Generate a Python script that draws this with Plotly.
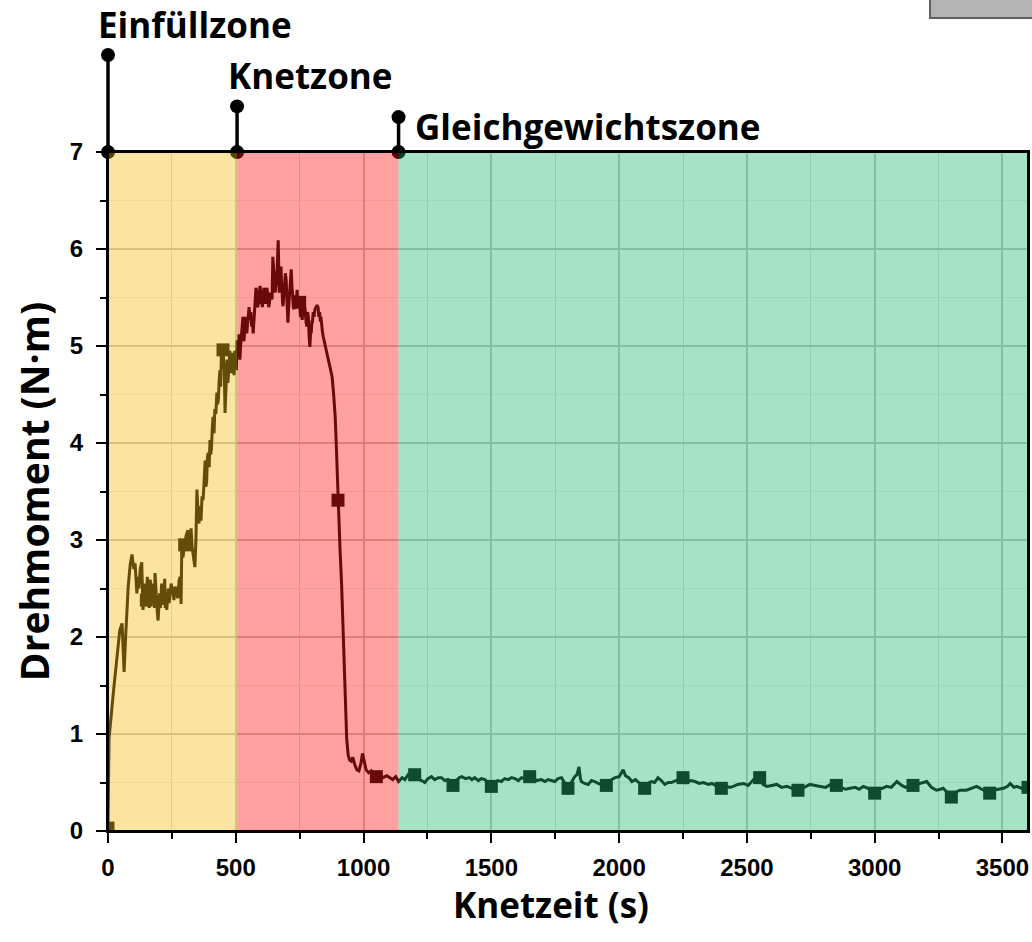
import plotly.graph_objects as go

# Kneading torque curve: time (s) and torque (N·m)
time_s = [
    0, 4, 20, 35, 46, 55, 59, 63, 69, 79, 87, 94, 101, 106, 113, 117, 121, 126, 132,
    137, 141, 144, 150, 154, 157, 161, 165, 170, 174, 178, 182, 184, 187, 190, 193,
    196, 199, 202, 205, 207, 210, 213, 216, 219, 222, 224, 227, 230, 233, 236, 239,
    242, 247, 253, 258, 263, 268, 273, 278, 282, 286, 289, 293, 300, 306, 313, 317,
    321, 325, 329, 334, 340, 344, 348, 352, 356, 360, 364, 368, 372, 376, 380, 383,
    386, 389, 392, 396, 399, 402, 405, 408, 411, 415, 418, 422, 426, 429, 432, 435,
    438, 441, 444, 450, 455, 458, 462, 466, 469, 473, 476, 479, 482, 485, 489, 493,
    496, 499, 502, 505,
    510, 513, 516, 519, 522, 525, 528, 532, 535, 539, 543, 546, 549, 552, 556, 559,
    562, 565, 568, 572, 575, 579, 583, 586, 589, 592, 595, 600, 604, 607, 610, 612,
    615, 618, 622, 626, 629, 632, 635, 638, 642, 645, 648, 651, 654, 658, 662, 666,
    668, 670, 672, 674, 677, 679, 681, 683, 685, 688, 691, 694, 697, 701, 704, 707,
    710, 714, 717, 720, 722, 725, 728, 731, 734, 737, 740, 743, 745, 750, 753, 755,
    760, 763, 766, 769, 771, 775, 778, 781, 784, 787, 790, 793, 795, 798, 800, 803,
    806, 810, 814, 818, 822, 825, 828, 831, 833, 836, 839, 842, 845, 849, 853, 857,
    862, 869, 877, 883, 889, 893, 896, 900, 904, 908, 914, 919, 924, 929, 934, 940,
    946, 952, 958, 966, 974, 982, 990, 996, 1002, 1010, 1020, 1030, 1040, 1050,
    1060, 1076, 1091, 1106, 1114, 1126, 1133, 1137,
    1151, 1162, 1174, 1187, 1200, 1212, 1227, 1240, 1252, 1266, 1278, 1293, 1305,
    1318, 1331, 1341, 1350, 1364, 1374, 1384, 1399, 1414, 1424, 1435, 1449, 1461,
    1475, 1487, 1500, 1513, 1525, 1539, 1552, 1566, 1579, 1593, 1606, 1618, 1631,
    1650, 1661, 1677, 1696, 1710, 1722, 1735, 1748, 1761, 1775, 1788, 1800, 1813,
    1826, 1835, 1843, 1848, 1852, 1865, 1879, 1892, 1905, 1919, 1934, 1950, 1964,
    1984, 2000, 2010, 2016, 2025, 2038, 2050, 2064, 2081, 2100, 2113, 2126, 2139,
    2152, 2165, 2179, 2192, 2205, 2222, 2237, 2250, 2262, 2280, 2297, 2313, 2330,
    2349, 2363, 2384, 2400, 2414, 2432, 2447, 2464, 2487, 2505, 2526, 2540, 2550,
    2563, 2579, 2596, 2617, 2636, 2656, 2677, 2700, 2717, 2732, 2747, 2767, 2787,
    2808, 2828, 2850, 2868, 2886, 2904, 2924, 2939, 2956, 2974, 2985, 3000, 3015,
    3030, 3047, 3065, 3087, 3106, 3121, 3136, 3150, 3166, 3182, 3204, 3222, 3242,
    3257, 3268, 3283, 3300, 3318, 3333, 3359, 3378, 3399, 3419, 3434, 3450, 3464,
    3485, 3504, 3520, 3530, 3545, 3556, 3575, 3586, 3600,
]
torque_nm = [
    0.03, 0.95, 1.40, 1.80, 2.07, 2.14, 1.90, 1.64, 2.00, 2.52, 2.75, 2.85, 2.70, 2.76,
    2.45, 2.62, 2.50, 2.70, 2.77, 2.28, 2.55, 2.45, 2.38, 2.62, 2.50, 2.30, 2.59, 2.42,
    2.35, 2.55, 2.30, 2.66, 2.48, 2.40, 2.25, 2.17, 2.40, 2.45, 2.30, 2.38, 2.55, 2.50,
    2.33, 2.45, 2.60, 2.30, 2.42, 2.28, 2.45, 2.50, 2.35, 2.42, 2.55, 2.48, 2.38, 2.52,
    2.45, 2.40, 2.58, 2.62, 2.34, 3.00, 2.82, 2.95, 3.05, 3.10, 2.90, 3.00, 3.12, 2.93,
    2.85, 2.72, 3.00, 3.52, 3.30, 3.17, 3.35, 3.20, 3.45, 3.41, 3.60, 3.82, 3.55, 3.60,
    3.85, 3.90, 3.75, 4.03, 3.88, 3.95, 4.15, 4.27, 4.10, 4.35, 4.30, 4.52, 4.40, 4.45,
    4.65, 4.75, 4.58, 4.95, 4.96, 4.75, 4.31, 4.70, 4.86, 4.62, 4.75, 4.95, 4.90, 4.72,
    4.80, 4.93, 4.70, 4.95, 4.85, 4.75, 5.06,
    4.90, 5.12, 4.86, 5.00, 5.10, 5.25, 5.30, 5.05, 5.15, 5.30, 5.13, 5.22, 5.30, 5.40,
    5.27, 5.35, 5.20, 5.28, 5.13, 5.35, 5.40, 5.60, 5.55, 5.40, 5.45, 5.58, 5.62, 5.50,
    5.40, 5.48, 5.60, 5.55, 5.45, 5.52, 5.60, 5.50, 5.40, 5.45, 5.55, 5.52, 5.48, 5.92,
    5.75, 5.70, 5.55, 5.65, 5.80, 6.09, 5.85, 5.55, 5.70, 5.75, 5.82, 5.65, 5.60, 5.45,
    5.41, 5.52, 5.60, 5.75, 5.69, 5.45, 5.24, 5.40, 5.50, 5.62, 5.79, 5.60, 5.55, 5.40,
    5.38, 5.52, 5.50, 5.45, 5.58, 5.40, 5.45, 5.45, 5.30, 5.35, 5.27, 5.42, 5.30, 5.38,
    5.38, 5.25, 5.20, 5.35, 5.30, 5.10, 4.99, 5.15, 5.13, 5.25, 5.25, 5.35, 5.30, 5.38,
    5.40, 5.42, 5.40, 5.30, 5.35, 5.25, 5.30, 5.20, 5.15, 5.10, 5.06, 5.02, 4.95, 4.90,
    4.86, 4.78, 4.68, 4.50, 4.27, 4.00, 3.75, 3.41, 3.15, 2.90, 2.55, 2.20, 1.80, 1.35,
    0.95, 0.78, 0.73, 0.72, 0.76, 0.68, 0.63, 0.62, 0.70, 0.80, 0.72, 0.63, 0.60, 0.62,
    0.58, 0.56, 0.58, 0.55, 0.57, 0.54, 0.53, 0.56, 0.52, 0.51,
    0.55, 0.53, 0.58, 0.55, 0.58, 0.54, 0.52, 0.50, 0.54, 0.56, 0.53, 0.55, 0.55, 0.52,
    0.53, 0.50, 0.47, 0.52, 0.55, 0.56, 0.54, 0.55, 0.53, 0.55, 0.52, 0.54, 0.53, 0.50,
    0.46, 0.50, 0.52, 0.51, 0.54, 0.53, 0.55, 0.54, 0.52, 0.55, 0.54, 0.56, 0.55, 0.52,
    0.53, 0.51, 0.53, 0.52, 0.51, 0.54, 0.55, 0.49, 0.44, 0.50, 0.56, 0.58, 0.66, 0.55,
    0.51, 0.49, 0.48, 0.52, 0.51, 0.49, 0.48, 0.47, 0.52, 0.55, 0.56, 0.60, 0.63, 0.57,
    0.55, 0.51, 0.53, 0.49, 0.44, 0.49, 0.51, 0.50, 0.55, 0.52, 0.48, 0.50, 0.50, 0.52,
    0.53, 0.55, 0.50, 0.52, 0.51, 0.49, 0.50, 0.48, 0.49, 0.46, 0.44, 0.47, 0.45, 0.46,
    0.48, 0.49, 0.47, 0.53, 0.52, 0.55, 0.48, 0.46, 0.47, 0.48, 0.45, 0.46, 0.44, 0.42,
    0.44, 0.46, 0.48, 0.47, 0.46, 0.45, 0.48, 0.47, 0.45, 0.43, 0.44, 0.45, 0.43, 0.46,
    0.44, 0.41, 0.39, 0.43, 0.44, 0.46, 0.45, 0.51, 0.47, 0.45, 0.46, 0.47, 0.48, 0.49,
    0.51, 0.45, 0.42, 0.43, 0.44, 0.40, 0.35, 0.40, 0.42, 0.42, 0.44, 0.46, 0.43, 0.41,
    0.39, 0.42, 0.43, 0.44, 0.46, 0.49, 0.45, 0.46, 0.44, 0.45, 0.45,
]

# Square symbols every 150 s along the curve
marker_times = [0, 150, 300, 450, 600, 750, 900, 1050, 1200, 1350, 1500, 1650, 1800,
                1950, 2100, 2250, 2400, 2550, 2700, 2850, 3000, 3150, 3300, 3450, 3600]

# Process zones: name, start (s), end (s), tint colour, height of the label post
zone_names = ["Einfüllzone", "Knetzone", "Gleichgewichtszone"]
zone_start = [0, 505, 1137]
zone_end = [505, 1137, 3600]
zone_tint = ["rgb(244,182,4)", "rgb(255,0,0)", "rgb(14,179,101)"]
post_top = [8.0, 7.47, 7.36]
label_y = [8.31, 7.79, 7.26]
label_shift = [-12, -11, 14]

X_MAX = 3600
Y_MAX = 7
Y_TOP = 831 / 97  # upper strip that holds the zone posts
MAIN_FRAC = 679 / 831

# Horizontal layout (px): paper is 1028 wide, plot starts at 108 and is 920 wide.
PAPER_W = 1028
PLOT_L = 108
STRIP_PAD = 20  # the upper strip reaches a little further left so the first post is not clipped
main_domain = [PLOT_L / PAPER_W, 1]
strip_domain = [(PLOT_L - STRIP_PAD) / PAPER_W, 1]
strip_x0 = -X_MAX * STRIP_PAD / (PAPER_W - PLOT_L)

lookup = dict(zip(time_s, torque_nm))
marker_vals = [lookup[t] for t in marker_times]

INK = "#111111"
fig = go.Figure()

fig.add_trace(go.Scatter(
    x=time_s, y=torque_nm, mode="lines",
    line=dict(color=INK, width=3), showlegend=False, hoverinfo="skip",
))
fig.add_trace(go.Scatter(
    x=marker_times, y=marker_vals, mode="markers",
    marker=dict(symbol="square", size=13, color=INK), showlegend=False,
))

# Zone posts above the frame
for x0, top in zip(zone_start, post_top):
    fig.add_trace(go.Scatter(
        x=[x0, x0], y=[Y_MAX, top], xaxis="x2", yaxis="y2",
        mode="lines+markers", cliponaxis=False,
        line=dict(color="black", width=3.5),
        marker=dict(symbol="circle", size=14, color="black"),
        showlegend=False, hoverinfo="skip",
    ))

label_font = dict(family="Open Sans", size=35, color="black", weight="bold")
for name, x0, ly, sh in zip(zone_names, zone_start, label_y, label_shift):
    fig.add_annotation(x=x0, y=ly, xref="x2", yref="y2", text=name, showarrow=False,
                       xanchor="left", yanchor="middle", xshift=sh, font=label_font)

# x-axis title, set slightly left of the plot centre
fig.add_annotation(x=551 / PAPER_W, y=-0.089, xref="paper", yref="paper", text="Knetzeit (s)",
                   showarrow=False, xanchor="center", yanchor="middle",
                   font=dict(family="Open Sans", size=35, color="black", weight="bold"))

# Translucent zone tints laid over curve and grid
for x0, x1, c in zip(zone_start, zone_end, zone_tint):
    fig.add_shape(type="rect", xref="x", yref="y domain", x0=x0, x1=x1, y0=0, y1=1,
                  fillcolor=c, opacity=0.37, line=dict(width=0), layer="above")

# Plot frame on top of the tints
fig.add_shape(type="rect", xref="x domain", yref="y domain", x0=0, x1=1, y0=0, y1=1,
              line=dict(color="black", width=2), fillcolor="rgba(0,0,0,0)", layer="above")

# Grey box in the top-right corner
fig.add_shape(type="rect", xref="paper", yref="paper", x0=930 / PAPER_W, x1=1.02,
              y0=0.9783, y1=1.02, fillcolor="rgb(180,180,180)",
              line=dict(color="rgb(95,95,95)", width=2), layer="above")

tick_font = dict(family="Liberation Sans", size=24, color="black", weight="bold")
y_title_font = dict(family="Open Sans", size=39, color="black", weight="bold")

fig.update_layout(
    width=1032, height=942,
    margin=dict(l=0, r=4, t=0, b=111, autoexpand=False),
    paper_bgcolor="white", plot_bgcolor="white",
    xaxis=dict(
        domain=main_domain,
        range=[0, X_MAX], tick0=0, dtick=500, ticks="outside", ticklen=10, tickwidth=2,
        tickcolor="black", showline=True, linewidth=2, linecolor="black", mirror=True,
        showgrid=True, gridcolor="rgb(200,200,200)", gridwidth=1.5, zeroline=False,
        tickfont=tick_font, automargin=False, ticklabeloverflow="allow",
        ticklabelstandoff=4,
        minor=dict(dtick=250, ticks="outside", ticklen=6, tickwidth=2, tickcolor="black",
                   showgrid=True, gridcolor="rgb(222,222,222)", gridwidth=1.2),
    ),
    yaxis=dict(
        domain=[0, MAIN_FRAC], range=[0, Y_MAX], tick0=0, dtick=1, ticks="outside",
        ticklen=10, tickwidth=2, tickcolor="black", showline=True, linewidth=2,
        linecolor="black", mirror=True, showgrid=True, gridcolor="rgb(200,200,200)",
        gridwidth=1.5, zeroline=False, tickfont=tick_font, automargin=False,
        ticklabelstandoff=8,
        title=dict(text="Drehmoment (N·m)", font=y_title_font, standoff=8),
        minor=dict(dtick=0.5, ticks="outside", ticklen=6, tickwidth=2, tickcolor="black",
                   showgrid=True, gridcolor="rgb(238,238,238)", gridwidth=1),
    ),
    xaxis2=dict(anchor="y2", domain=strip_domain, range=[strip_x0, X_MAX], visible=False,
                automargin=False),
    yaxis2=dict(anchor="x2", domain=[MAIN_FRAC, 1], range=[Y_MAX, Y_TOP], visible=False,
                automargin=False),
)

fig.write_html("out.html")
